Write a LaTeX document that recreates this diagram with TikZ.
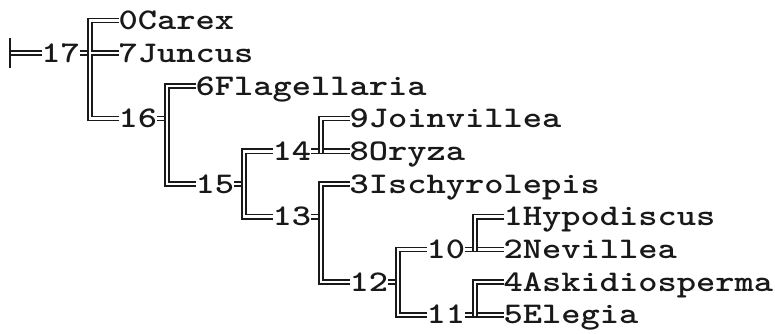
\documentclass[tikz,border=0pt]{standalone}
\usepackage{graphicx}
\newcommand\stretchtxt[1]{\scalebox{1.2222}[1]{#1}}
\tikzset{
  lbl/.style={anchor=west, inner sep=0pt, outer sep=0pt, text height=18.3pt, text depth=0pt,
    font=\ttfamily\bfseries\fontsize{30}{30}\selectfont, text=black!90},
  dbl/.style={draw=black!90, line width=1.6pt, double=white, double distance=2.5pt, line join=miter},
  rootbar/.style={draw=black!90, line width=2pt}
}
\begin{document}
\begin{tikzpicture}[x=1pt,y=-1pt]
\fill[white] (0,0) rectangle (775,333);
\useasboundingbox (0,0) rectangle (775,333);
% rows: 20.5 + 32.7 r ; columns: 3 + 19.25 k
\node[lbl] (n17) at (41.5,53.2) {\stretchtxt{17}};
\node[lbl] (c0)  at (118.5,20.5) {\stretchtxt{0Carex}};
\node[lbl] (c7)  at (118.5,53.2) {\stretchtxt{7Juncus}};
\node[lbl] (n16) at (118.5,118.6) {\stretchtxt{16}};
\node[lbl] (c6)  at (195.5,85.9) {\stretchtxt{6Flagellaria}};
\node[lbl] (n15) at (195.5,184.0) {\stretchtxt{15}};
\node[lbl] (n14) at (272.5,151.3) {\stretchtxt{14}};
\node[lbl] (c9)  at (349.5,118.6) {\stretchtxt{9Joinvillea}};
\node[lbl] (c8)  at (349.5,151.3) {\stretchtxt{8Oryza}};
\node[lbl] (n13) at (272.5,216.7) {\stretchtxt{13}};
\node[lbl] (c3)  at (349.5,184.0) {\stretchtxt{3Ischyrolepis}};
\node[lbl] (n12) at (349.5,282.1) {\stretchtxt{12}};
\node[lbl] (n10) at (426.5,249.4) {\stretchtxt{10}};
\node[lbl] (c1)  at (503.5,216.7) {\stretchtxt{1Hypodiscus}};
\node[lbl] (c2)  at (503.5,249.4) {\stretchtxt{2Nevillea}};
\node[lbl] (n11) at (426.5,314.8) {\stretchtxt{11}};
\node[lbl] (c4)  at (503.5,282.1) {\stretchtxt{4Askidiosperma}};
\node[lbl] (c5)  at (503.5,314.8) {\stretchtxt{5Elegia}};
% junction points
\coordinate (root) at (10,53.2);
\coordinate (j17) at (90,53.2);
\coordinate (j16) at (167,118.6);
\coordinate (j15) at (244,184.0);
\coordinate (j13) at (321,216.7);
\coordinate (j12) at (398,282.1);
\coordinate (j14) at (321,152.55);
\coordinate (j10) at (475,250.65);
\coordinate (j11) at (475,316.05);
% ticks from labels to their brackets
\draw[dbl] (n17.east) -- (j17);
\draw[dbl] (n16.east) -- (j16);
\draw[dbl] (n15.east) -- (j15);
\draw[dbl] (n13.east) -- (j13);
\draw[dbl] (n12.east) -- (j12);
% straight-through pairs
\draw[dbl] (n14.east) -- (c8.west);
\draw[dbl] (n10.east) -- (c2.west);
\draw[dbl] (n11.east) -- (c5.west);
% brackets
\draw[dbl] (c0.west) -| (j17) |- (n16.west);
\draw[dbl] (c6.west) -| (j16) |- (n15.west);
\draw[dbl] (n14.west) -| (j15) |- (n13.west);
\draw[dbl] (c3.west) -| (j13) |- (n12.west);
\draw[dbl] (n10.west) -| (j12) |- (n11.west);
\draw[dbl] (c9.west) -| (j14);
\draw[dbl] (c1.west) -| (j10);
\draw[dbl] (c4.west) -| (j11);
% middle branch of 17
\draw[dbl] ([xshift=1.25pt]j17) -- (c7.west);
% root
\draw[dbl] (root) -- (n17.west);
\draw[rootbar] ([yshift=15pt]root) -- ([yshift=-15pt]root);
\end{tikzpicture}
\end{document}
